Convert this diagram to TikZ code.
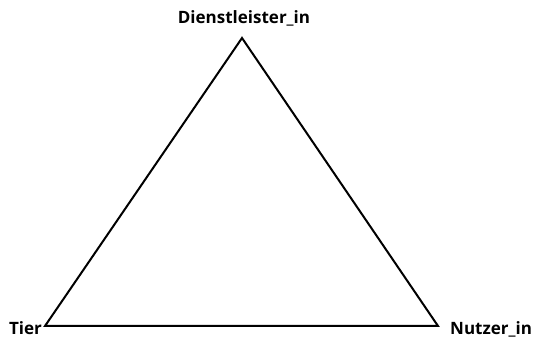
\documentclass[tikz,border=0pt]{standalone}
\usepackage{fontspec}
\setmainfont{Open Sans}
\usetikzlibrary{positioning}
\definecolor{cline}{HTML}{000000}
\tikzset{
  every picture/.style={x=1pt, y=1pt, font=\bfseries\fontsize{17}{20}\selectfont},
  edge/.style={draw=cline, line width=2pt, line join=miter},
  role/.style={inner sep=0pt, text=cline},
}
\begin{document}
\begin{tikzpicture}
  \useasboundingbox (0,0) rectangle (537,339);
  % corners of the triangle
  \coordinate (top) at (242,301);
  \coordinate (left) at (45,13);
  \coordinate (right) at (438,13);
  \draw[edge] (top) -- (right) -- (left) -- cycle;
  % roles
  \node[role, anchor=base] (anbieter) at (244,315) {Dienstleister\_in};
  \node[role, anchor=base east] (tier) at (42,4.5) {Tier};
  \node[role, anchor=base west] (nutzer) at (450,4.5) {Nutzer\_in};
\end{tikzpicture}
\end{document}
